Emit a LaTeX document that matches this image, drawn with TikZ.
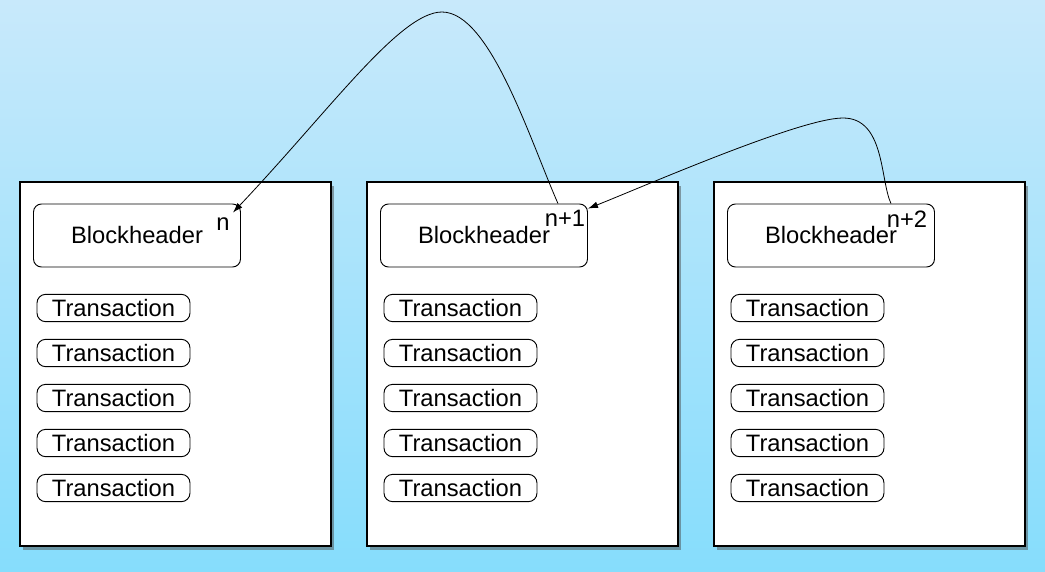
\documentclass[tikz,border=0pt]{standalone}
\usepackage{fontspec}
\setmainfont{Liberation Sans}
\usetikzlibrary{shadows}
\usetikzlibrary{arrows.meta}
\definecolor{skytop}{RGB}{200,233,251}
\definecolor{skybottom}{RGB}{134,221,252}
\tikzset{
 block/.style={draw, line width=0.9pt, fill=white, minimum width=233.25pt, minimum height=273pt, drop shadow={fill=black!70, opacity=0.5, shadow xshift=2.5pt, shadow yshift=-3pt}},
 header/.style={draw, rounded corners=6pt, line width=0.7pt, fill=white, minimum width=155.25pt, minimum height=47.25pt, inner sep=0pt},
 tx/.style={draw, rounded corners=6.5pt, line width=0.7pt, minimum width=114.75pt, minimum height=20.5pt, inner sep=0pt},
 hlabel/.style={anchor=base, inner sep=0pt},
 link/.style={line width=0.6pt, -{Latex[length=7.5pt,width=5pt]}}
}
\begin{document}
\begin{tikzpicture}[x=0.75pt,y=-0.75pt,font=\fontsize{17.8}{20}\selectfont]
\shade[top color=skytop, bottom color=skybottom] (0,0) rectangle (1045,571);
\useasboundingbox (0,0) rectangle (1045,571);
% three blocks
\foreach \i/\x/\lx/\ly/\lab in {1/20/223/230/n, 2/367/565/226/n+1, 3/714/907/227/n+2} {\node[block] (block\i) at (\x+155.5,364) {};
\node[header] (head\i) at (\x+117,235.5) {Blockheader};
\node[hlabel] (num\i) at (\lx,\ly) {\lab};
\foreach \j in {1,...,5} \node[tx] (tx\i\j) at (\x+93.5,263+45*\j) {Transaction};};
% links back to the previous header
\coordinate (s2) at ([xshift=-22.5pt]head2.north east);
\coordinate (t1) at ([xshift=-6pt,yshift=-6.75pt]head1.north east);
\coordinate (s3) at ([xshift=-33pt]head3.north east);
\coordinate (t2) at ([yshift=-3.75pt]head2.north east);
\draw[link] (s2) .. controls (530,140) and (490,12) .. (442,12) .. controls (400,12) and (330,110) .. (t1);
\draw[link] (s3) .. controls (880,180) and (885,118) .. (843,118) .. controls (800,118) and (640,188) .. (t2);
\end{tikzpicture}
\end{document}
